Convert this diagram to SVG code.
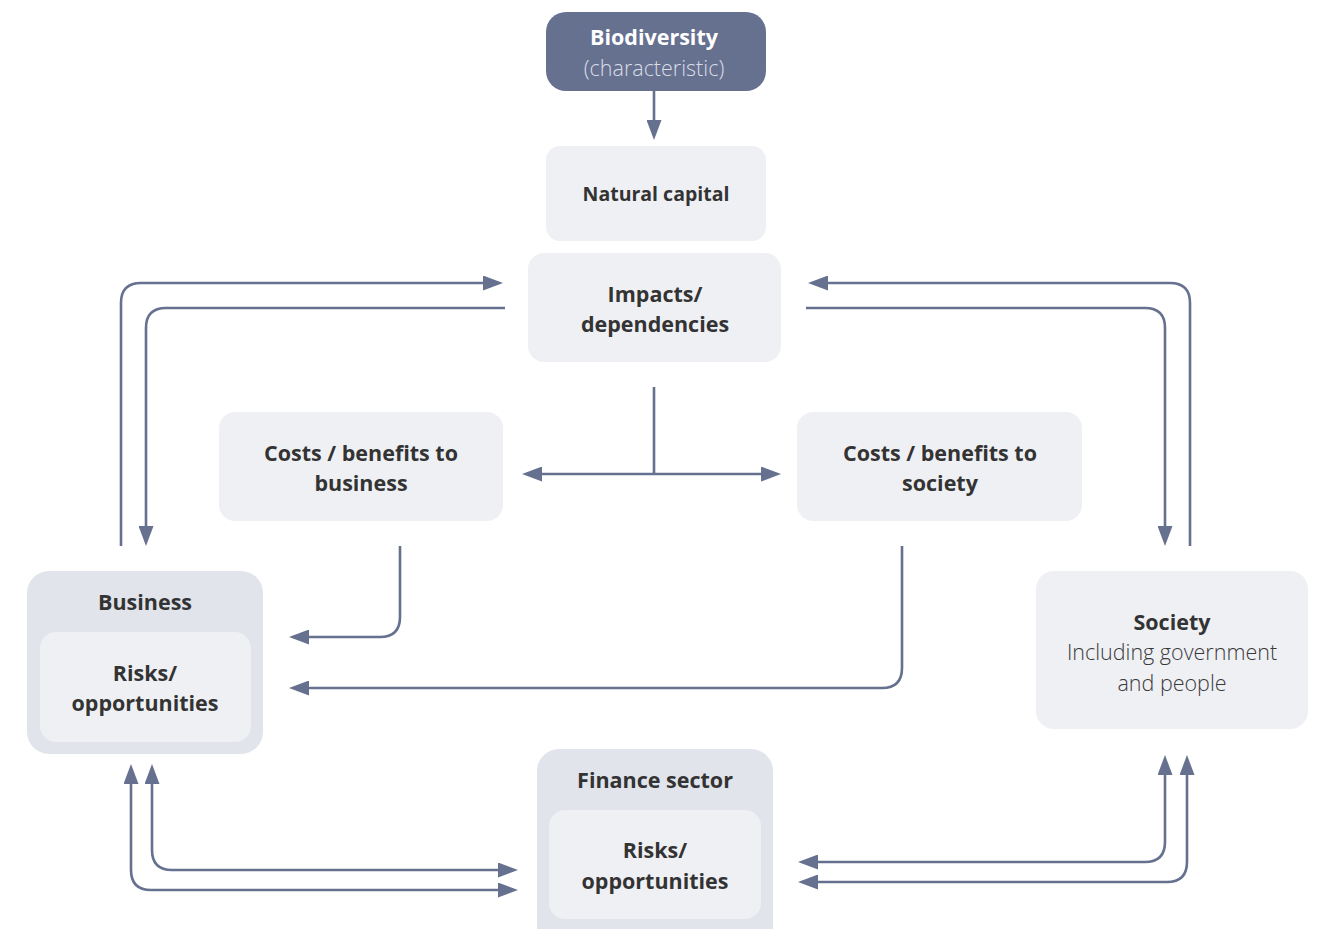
<svg xmlns="http://www.w3.org/2000/svg" width="1326" height="929" viewBox="0 0 1326 929">
  <style>
    .box { fill: #eff0f4; }
    .outer { fill: #e1e4eb; }
    .dark { fill: #66708f; }
    .t { font-family: "Open Sans", "Noto Sans", "Liberation Sans", sans-serif; text-anchor: middle; fill: #333333; }
    .b { font-weight: 700; font-size: 21.5px; }
    .r { font-weight: 300; font-size: 21.5px; fill: #3a3a3a; }
    .w { fill: #ffffff; }
    .lw { fill: #dadde7; }
    .link { fill: none; stroke: #66708f; stroke-width: 2.6; }
  </style>
  <defs>
    <marker id="arrow" viewBox="0 0 20 15" refX="8" refY="7.5" markerWidth="20" markerHeight="15" markerUnits="userSpaceOnUse" orient="auto-start-reverse">
      <path d="M0,0 L20,7.5 L0,15 z" fill="#66708f"/>
    </marker>
  </defs>

  <!-- connectors -->
  <g id="connectors">
    <!-- biodiversity to natural capital -->
    <path class="link" d="M654,91 V128" marker-end="url(#arrow)"/>
    <!-- business loop with impacts/dependencies -->
    <path class="link" d="M121,546 V303 Q121,283 141,283 H491" marker-end="url(#arrow)"/>
    <path class="link" d="M505,308 H166 Q146,308 146,328 V534" marker-end="url(#arrow)"/>
    <!-- society loop with impacts/dependencies -->
    <path class="link" d="M1190,546 V303 Q1190,283 1170,283 H820" marker-end="url(#arrow)"/>
    <path class="link" d="M806,308 H1145 Q1165,308 1165,328 V534" marker-end="url(#arrow)"/>
    <!-- impacts split to costs / benefits -->
    <path class="link" d="M654,387 V474"/>
    <path class="link" d="M534,474 H769" marker-start="url(#arrow)" marker-end="url(#arrow)"/>
    <!-- costs / benefits into business -->
    <path class="link" d="M400,546 V617 Q400,637 380,637 H301" marker-end="url(#arrow)"/>
    <path class="link" d="M902,546 V668 Q902,688 882,688 H301" marker-end="url(#arrow)"/>
    <!-- business and finance sector (two-way) -->
    <path class="link" d="M506,870 H172 Q152,870 152,850 V776" marker-start="url(#arrow)" marker-end="url(#arrow)"/>
    <path class="link" d="M131,776 V870 Q131,890 151,890 H506" marker-start="url(#arrow)" marker-end="url(#arrow)"/>
    <!-- finance sector and society (two-way) -->
    <path class="link" d="M1165,767 V842 Q1165,862 1145,862 H810" marker-start="url(#arrow)" marker-end="url(#arrow)"/>
    <path class="link" d="M810,882 H1167 Q1187,882 1187,862 V767" marker-start="url(#arrow)" marker-end="url(#arrow)"/>
  </g>

  <g id="biodiversity">
    <rect class="dark" x="546" y="12" width="220" height="79" rx="20"/>
    <text class="t b w" x="654" y="45">Biodiversity</text>
    <text class="t r lw" x="654" y="76">(characteristic)</text>
  </g>

  <g id="natural-capital">
    <rect class="box" x="546" y="146" width="220" height="95" rx="14"/>
    <text class="t b" x="656" y="201" style="font-size:19.5px">Natural capital</text>
  </g>

  <g id="impacts">
    <rect class="box" x="528" y="253" width="253" height="109" rx="16"/>
    <text class="t b" x="655" y="302">Impacts/</text>
    <text class="t b" x="655" y="332">dependencies</text>
  </g>

  <g id="costs-business">
    <rect class="box" x="219" y="412" width="284" height="109" rx="16"/>
    <text class="t b" x="361" y="461">Costs / benefits to</text>
    <text class="t b" x="361" y="491">business</text>
  </g>

  <g id="costs-society">
    <rect class="box" x="797" y="412" width="285" height="109" rx="16"/>
    <text class="t b" x="940" y="461">Costs / benefits to</text>
    <text class="t b" x="940" y="491">society</text>
  </g>

  <g id="business">
    <rect class="outer" x="27" y="571" width="236" height="183" rx="22"/>
    <text class="t b" x="145" y="610">Business</text>
    <rect class="box" x="40" y="632" width="211" height="110" rx="16"/>
    <text class="t b" x="145" y="681">Risks/</text>
    <text class="t b" x="145" y="711">opportunities</text>
  </g>

  <g id="finance-sector">
    <rect class="outer" x="537" y="749" width="236" height="200" rx="22"/>
    <text class="t b" x="655" y="788">Finance sector</text>
    <rect class="box" x="549" y="810" width="212" height="109" rx="16"/>
    <text class="t b" x="655" y="858">Risks/</text>
    <text class="t b" x="655" y="889">opportunities</text>
  </g>

  <g id="society">
    <rect class="box" x="1036" y="571" width="272" height="158" rx="18"/>
    <text class="t b" x="1172" y="630">Society</text>
    <text class="t r" x="1172" y="660">Including government</text>
    <text class="t r" x="1172" y="691">and people</text>
  </g>
</svg>
